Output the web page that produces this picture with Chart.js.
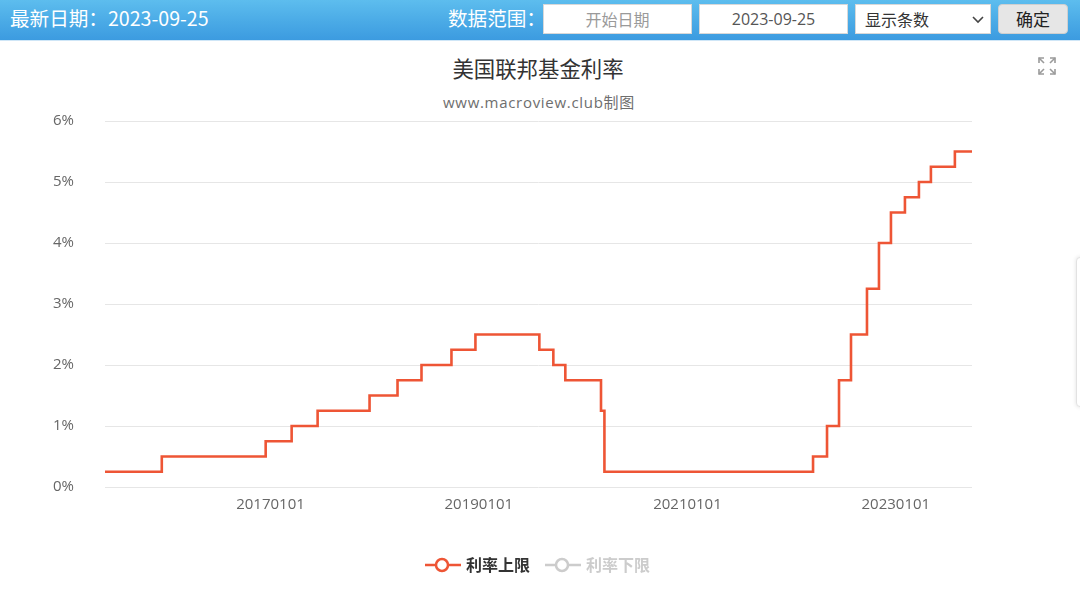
<!DOCTYPE html>
<html>
<head>
<meta charset="utf-8">
<script src="https://cdn.jsdelivr.net/npm/chart.js@4/dist/chart.umd.min.js"></script>
<style>
  html, body { margin:0; padding:0; background:#fff; }
  body { font-family: "Open Sans", "Noto Sans CJK SC", sans-serif; }
  #wrap { position:relative; width:1080px; height:591px; overflow:hidden; background:#fff; }
  #header { position:absolute; left:0; top:0; width:1080px; height:40px;
    background:linear-gradient(to bottom, #5dbdee 0%, #4aaae6 55%, #3c9be0 100%); z-index:3;
    border-bottom:1px solid #cfe6f7; }
  .htxt { position:absolute; color:#fff; font-size:19.6px; line-height:40px; top:-2px; white-space:nowrap;
    font-family:"Noto Sans CJK SC", sans-serif; }
  .box { position:absolute; top:4px; height:30px; background:#fff; border:1px solid #d8d8d8; box-sizing:border-box;
    font-size:16px; line-height:28px; white-space:nowrap; font-family:"Noto Sans CJK SC", sans-serif; }
  #btn { position:absolute; left:998px; top:4px; width:70px; height:30px; background:#e6e6e6; border:1px solid #cfcfcf;
    border-radius:4px; box-sizing:border-box; text-align:center; font-size:17px; line-height:28px; color:#222;
    font-family:"Noto Sans CJK SC", sans-serif; }
  #title { position:absolute; left:0; width:1076px; top:53px; text-align:center; font-size:21.4px; color:#333;
    font-family:"Noto Sans CJK SC", sans-serif; line-height:30px; }
  #subtitle { position:absolute; left:0; width:1078px; top:92px; text-align:center; font-size:15px; color:#6e6e6e;
    line-height:20px; letter-spacing:0.7px; }
  #c { position:absolute; left:0; top:0; z-index:1; }
  #side { position:absolute; left:1076px; top:257px; width:20px; height:148px; background:#fff;
    border:1px solid #e2e2e2; border-radius:4px; box-shadow:0 0 4px rgba(0,0,0,0.12); z-index:2; }
  #legend { position:absolute; top:553px; left:0; width:1080px; height:24px; z-index:2;
    font-family:"Noto Sans CJK SC", sans-serif; font-weight:bold; font-size:16px; }
  .lg { position:absolute; top:0; height:24px; line-height:24px; white-space:nowrap; }
</style>
</head>
<body>
<div id="wrap">
  <div id="header">
    <div class="htxt" style="left:10px;">最新日期：2023-09-25</div>
    <div class="htxt" style="left:448px;">数据范围：</div>
    <div class="box" style="left:543px;width:149px;text-align:center;color:#9a9a9a;">开始日期</div>
    <div class="box" style="left:699px;width:149px;text-align:center;color:#555;font-family:'Open Sans','Noto Sans CJK SC',sans-serif;">2023-09-25</div>
    <div class="box" style="left:855px;width:136px;padding-left:9px;color:#333;">显示条数
      <svg width="12" height="8" style="position:absolute;left:116px;top:11px;"><polyline points="1,1 6,6 11,1" fill="none" stroke="#444" stroke-width="1.6"/></svg>
    </div>
    <div id="btn">确定</div>
  </div>
  <canvas id="c" width="1080" height="591"></canvas>
  <div id="title">美国联邦基金利率</div>
  <div id="subtitle">www.macroview.club制图</div>
  <svg style="position:absolute;left:1038px;top:57px;z-index:2" width="18" height="18" viewBox="0 0 18 18">
    <g fill="none" stroke="#9a9a9a" stroke-width="1.6">
      <polyline points="1,6 1,1 6,1"/><line x1="1" y1="1" x2="6" y2="6"/>
      <polyline points="12,1 17,1 17,6"/><line x1="17" y1="1" x2="12" y2="6"/>
      <polyline points="1,12 1,17 6,17"/><line x1="1" y1="17" x2="6" y2="12"/>
      <polyline points="12,17 17,17 17,12"/><line x1="17" y1="17" x2="12" y2="12"/>
    </g>
  </svg>
  <div id="side"></div>
  <div id="legend">
    <div class="lg" style="left:425px;">
      <svg width="36" height="24" style="position:absolute;left:0;top:0">
        <line x1="0" y1="12" x2="36" y2="12" stroke="#ee5535" stroke-width="2.5"/>
        <circle cx="17" cy="12" r="6" fill="#fff" stroke="#ee5535" stroke-width="2.5"/>
      </svg>
      <span style="position:absolute;left:41px;top:-1px;color:#333;">利率上限</span>
    </div>
    <div class="lg" style="left:545px;">
      <svg width="36" height="24" style="position:absolute;left:0;top:0">
        <line x1="0" y1="12" x2="36" y2="12" stroke="#cccccc" stroke-width="2.5"/>
        <circle cx="17" cy="12" r="6" fill="#fff" stroke="#cccccc" stroke-width="2.5"/>
      </svg>
      <span style="position:absolute;left:41px;top:-1px;color:#cccccc;">利率下限</span>
    </div>
  </div>
</div>
<script>
// ---- data ----
const changeDates = ['2015-06-01','2015-12-17','2016-12-15','2017-03-16','2017-06-15','2017-12-14',
  '2018-03-22','2018-06-14','2018-09-27','2018-12-20','2019-08-01','2019-09-19','2019-10-31',
  '2020-03-04','2020-03-16','2022-03-17','2022-05-05','2022-06-16','2022-07-28','2022-09-22',
  '2022-11-03','2022-12-15','2023-02-02','2023-03-23','2023-05-04','2023-07-27','2023-09-25'];
const upperRates = [0.25,0.50,0.75,1.00,1.25,1.50,
  1.75,2.00,2.25,2.50,2.25,2.00,1.75,
  1.25,0.25,0.50,1.00,1.75,2.50,3.25,
  4.00,4.50,4.75,5.00,5.25,5.50,5.50];
const lowerRates = [0.00,0.25,0.50,0.75,1.00,1.25,
  1.50,1.75,2.00,2.25,2.00,1.75,1.50,
  1.00,0.00,0.25,0.75,1.50,2.25,3.00,
  3.75,4.25,4.50,4.75,5.00,5.25,5.25];
const xTickLabels = ['20170101','20190101','20210101','20230101'];
const yTickValues = [0,1,2,3,4,5,6];

// ---- helpers ----
const toDay = s => Date.UTC(+s.slice(0,4), +s.slice(5,7)-1, +s.slice(8,10)) / 86400000;
const labelToDay = l => Date.UTC(+l.slice(0,4), +l.slice(4,6)-1, +l.slice(6,8)) / 86400000;
const dayToLabel = d => { const t = new Date(d*86400000);
  return t.getUTCFullYear() + String(t.getUTCMonth()+1).padStart(2,'0') + String(t.getUTCDate()).padStart(2,'0'); };

const xs = changeDates.map(toDay);
const upperData = xs.map((x,i) => ({x, y: upperRates[i]}));
const lowerData = xs.map((x,i) => ({x, y: lowerRates[i]}));
const tickFont = { size: 15, family: '"Open Sans","Noto Sans CJK SC",sans-serif' };

new Chart(document.getElementById('c'), {
  type: 'line',
  data: { datasets: [
    { label: '利率上限', data: upperData, stepped: 'before', borderColor: '#ee5535', borderWidth: 2.6,
      pointRadius: 0, pointHoverRadius: 0, fill: false, borderJoinStyle: 'miter' },
    { label: '利率下限', data: lowerData, stepped: 'before', borderColor: '#cccccc', borderWidth: 2.6,
      pointRadius: 0, fill: false, hidden: true }
  ]},
  options: {
    responsive: false, animation: false, events: [],
    layout: { padding: { left: 0, right: 108, top: 121, bottom: 74 } },
    plugins: { legend: { display: false }, title: { display: false }, tooltip: { enabled: false } },
    scales: {
      x: { type: 'linear', min: xs[0], max: xs[xs.length-1],
        grid: { display: false, drawTicks: false }, border: { display: false },
        afterBuildTicks: s => { s.ticks = xTickLabels.map(l => ({ value: labelToDay(l) })); },
        afterFit: s => { s.height = 30; },
        ticks: { autoSkip: false, maxRotation: 0, padding: 9, color: '#666', font: tickFont,
          callback: v => dayToLabel(v) } },
      y: { min: 0, max: 6,
        afterBuildTicks: s => { s.ticks = yTickValues.map(v => ({ value: v })); },
        afterFit: s => { s.width = 105; },
        grid: { color: '#e6e6e6', lineWidth: 1, drawTicks: false }, border: { display: false },
        ticks: { padding: 31, color: '#666', font: tickFont,
          callback: v => v + '%' } }
    }
  }
});
</script>
</body>
</html>
